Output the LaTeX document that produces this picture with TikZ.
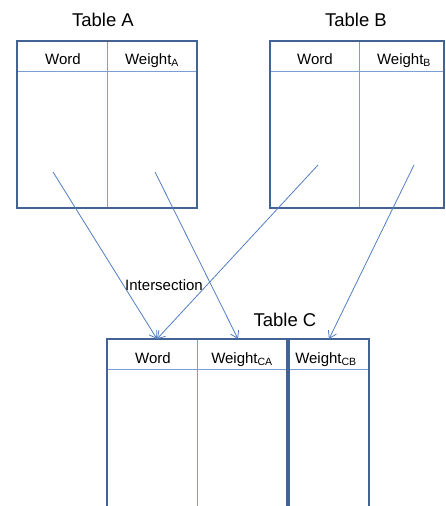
\documentclass[tikz,border=0pt]{standalone}
\usepackage{fontspec}
\setmainfont{Liberation Sans}
\usetikzlibrary{arrows.meta,calc}

\definecolor{boxline}{RGB}{66,99,148}
\definecolor{gridline}{RGB}{120,160,214}
\definecolor{arrowline}{RGB}{82,126,196}

\begin{document}
\begin{tikzpicture}[x=1pt,y=-1pt]
      \tikzset{frame/.style={draw=boxline,line width=1.6pt},
        rule/.style={draw=gridline,line width=1pt},
        flow/.style={draw=arrowline,line width=0.8pt,
          -{Straight Barb[length=7pt,width=9pt]}},
        title/.style={font=\fontsize{18.5}{22}\selectfont},
        head/.style={font=\fontsize{15}{18}\selectfont,anchor=base}
      }
      \useasboundingbox (0,0) rectangle (446,506);

      % table A
      \draw [rule] (17,71) -- (197,71);
      \draw [rule] (107,41) -- (107,208);
      \draw [frame] (17,41) rectangle (197,208);
      \node [title] (tA) at (103,20) {Table A};
      \node [head] (wordA) at (63,64) {Word};
      \node [head] (weightA) at (152,64) {Weight\textsubscript{A}};

      % table B
      \draw [rule] (270,71) -- (444,71);
      \draw [rule] (359,41) -- (359,208);
      \draw [frame] (444,41) -- (270,41) -- (270,208) -- (444,208) -- cycle;
      \node [title] (tB) at (356,20) {Table B};
      \node [head] (wordB) at (315,64) {Word};
      \node [head] (weightB) at (404,64) {Weight\textsubscript{B}};

      % table C, open at the bottom
      \draw [rule] (107,369) -- (369,369);
      \draw [rule] (197,339) -- (197,506);
      \draw [frame] (107,506) -- (107,339) -- (287,339) -- (287,506);
      \draw [frame] (289,506) -- (289,339) -- (369,339) -- (369,506);
      \node [title] (tC) at (285,320) {Table C};
      \node [head] (wordC) at (153,363) {Word};
      \node [head] (weightCA) at (242,363) {Weight\textsubscript{CA}};
      \node [head] (weightCB) at (326,363) {Weight\textsubscript{CB}};

      % where the rows come from and go to
      \coordinate (fromAw) at (53,172);
      \coordinate (fromAg) at (155,172);
      \coordinate (fromBw) at (318,165);
      \coordinate (fromBg) at (414,165);
      \coordinate (toCw) at (157,339);
      \coordinate (toCa) at (238,339);
      \coordinate (toCb) at (329,339);

      \draw [flow] (fromAw) -- (toCw);
      \draw [flow] (fromBw) -- (toCw);
      \draw [flow] (fromAg) -- (toCa);
      \draw [flow] (fromBg) -- (toCb);
      \node [font=\fontsize{15}{18}\selectfont] (isect) at (164,285) {Intersection};
\end{tikzpicture}
\end{document}
